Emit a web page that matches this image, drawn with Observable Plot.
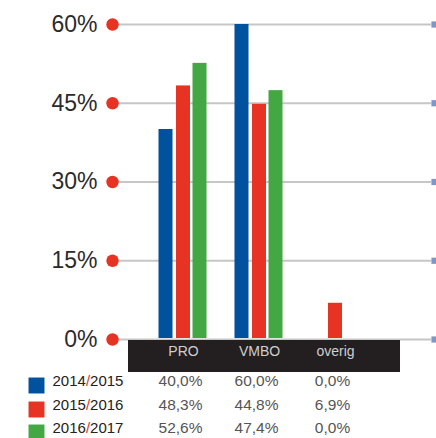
<!DOCTYPE html>
<html>
<head>
<meta charset="utf-8">
<script src="https://cdn.jsdelivr.net/npm/d3@7"></script>
<script src="https://cdn.jsdelivr.net/npm/@observablehq/plot@0.6"></script>
<style>
  html, body { margin: 0; padding: 0; background: #fff; }
  svg { display: block; }
</style>
</head>
<body>
<div id="chart"></div>
<script>
const groups = ["PRO", "VMBO", "overig"];
const years = ["2014/2015", "2015/2016", "2016/2017"];
const colors = ["#00519e", "#e63323", "#43a843"];
const v2014 = [40.0, 60.0, 0.0];
const v2015 = [48.3, 44.8, 6.9];
const v2016 = [52.6, 47.4, 0.0];
const yTicks = [0, 15, 30, 45, 60];

const series = [v2014, v2015, v2016];
const data = [];
series.forEach((vals, i) => vals.forEach((v, j) => data.push({group: groups[j], year: years[i], value: v})));
const fmt = v => v.toFixed(1).replace(".", ",") + "%";

// bar offsets within each group band (insets left/right)
const insets = [[13.5, 48.5], [31, 31], [47.5, 14.5]];
const rowDy = [-53, -29, -6];

const marks = [
  Plot.ruleY(yTicks, {stroke: "#c6c6c6", strokeWidth: 2}),
  (index, scales) => {
    const x = scales.x, y = scales.y;
    const step = x("VMBO") - x("PRO");
    const left = x("PRO") - 17;
    const right = x("overig") + step + 27;
    const r = document.createElementNS("http://www.w3.org/2000/svg", "rect");
    r.setAttribute("x", left);
    r.setAttribute("width", right - left);
    r.setAttribute("y", y(0) + 1);
    r.setAttribute("height", 32);
    r.setAttribute("fill", "#231f20");
    return r;
  },
  Plot.dot(yTicks, {y: d => d, frameAnchor: "left", dx: -6, r: 6.2, fill: "#e63323", stroke: null}),
  Plot.dot(yTicks, {y: d => d, frameAnchor: "right", dx: 3, r: 3.5, symbol: "square", fill: "#7f96c8", stroke: null}),
  Plot.text(yTicks, {y: d => d, text: d => d + "%", frameAnchor: "left", dx: -21, textAnchor: "end",
    fontFamily: "'Liberation Sans Narrow', sans-serif", fontSize: 23, fill: "#2b2b2b"}),
  Plot.text(groups, {x: d => d, text: d => d, frameAnchor: "bottom", dy: -83,
    fontFamily: "'Liberation Sans', sans-serif", fontSize: 14, fill: "#cfcfcf"})
];

years.forEach((yr, i) => {
  marks.push(Plot.barY(data.filter(d => d.year === yr && d.value > 0), {
    x: "group", y: "value", fill: "year",
    insetLeft: insets[i][0], insetRight: insets[i][1], insetBottom: 1
  }));
  marks.push(Plot.dot([yr], {fill: d => d, symbol: "square", r: 9, frameAnchor: "bottom-left", dx: -82, dy: rowDy[i], stroke: null}));
  marks.push(Plot.text([yr], {text: d => d, frameAnchor: "bottom-left", dx: -66, dy: rowDy[i], textAnchor: "start",
    fontFamily: "'Liberation Sans', sans-serif", fontSize: 15, fill: "#222"}));
  marks.push(Plot.text(groups, {x: d => d, text: (d, j) => fmt(series[i][j]), frameAnchor: "bottom", dy: rowDy[i], dx: -3,
    fontFamily: "'Liberation Sans', sans-serif", fontSize: 15.5, fill: "#555"}));
});

const chart = Plot.plot({
  width: 436,
  height: 438,
  marginTop: 0,
  marginBottom: 0,
  marginLeft: 118,
  marginRight: 5,
  style: {background: "#fff", overflow: "visible"},
  x: {type: "band", domain: groups, range: [145, 373], padding: 0, axis: null},
  y: {domain: [0, 60], range: [339, 24], axis: null},
  color: {domain: years, range: colors},
  marks
});

d3.select(chart).selectAll("text").each(function() {
  const t = this.textContent;
  const m = /^(\d{4})\/(\d{4})$/.exec(t);
  if (m) {
    const el = d3.select(this);
    el.text(null);
    el.append("tspan").text(m[1]);
    el.append("tspan").attr("fill", "#e63323").text("/");
    el.append("tspan").text(m[2]);
  }
});

document.getElementById("chart").appendChild(chart);
</script>
</body>
</html>
